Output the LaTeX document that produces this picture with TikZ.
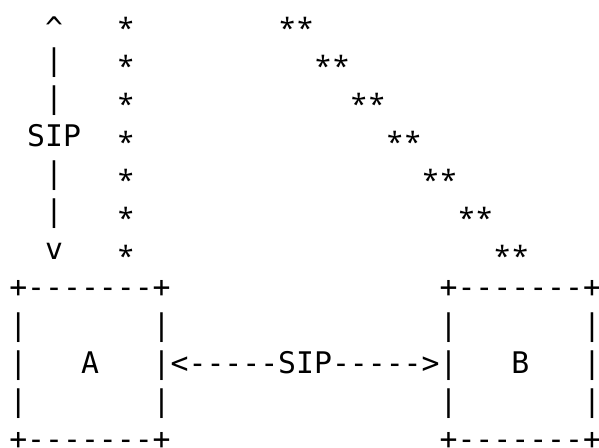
\documentclass[tikz,border=0pt]{standalone}
\usepackage{fontspec}
\newfontfamily\monofont{DejaVu Sans Mono}
\newfontfamily\starfont{Noto Sans}
\tikzset{
  txt/.style={anchor=base west, inner sep=0pt, outer sep=0pt, font=\monofont\fontsize{29.78pt}{38pt}\selectfont},
  star/.style={anchor=base, inner sep=0pt, outer sep=0pt, yshift=-6.5pt, font=\starfont\fontsize{28pt}{34pt}\selectfont},
}
\begin{document}
\begin{tikzpicture}
\useasboundingbox (0,0) rectangle (599pt,-447pt);
\begin{scope}[shift={(9.3pt,-32.3pt)}, x=17.93pt, y=-37.9pt]
  % vertical SIP arrow
  \node[txt, yshift=-6pt] (up) at (2,0) {\^{}};
  \node[txt] (v1) at (2,1) {|};
  \node[txt] (v2) at (2,2) {|};
  \node[txt] (sipv) at (1,3) {SIP};
  \node[txt] (v4) at (2,4) {|};
  \node[txt] (v5) at (2,5) {|};
  \node[txt] (down) at (2,6) {v};
  % vertical star column and diagonal pairs
  \foreach \r in {0,...,6} {
    \node[star] (s\r) at (6.5,\r) {*};
    \node[star] (da\r) at ({15.5+2*\r},\r) {*};
    \node[star] (db\r) at ({16.5+2*\r},\r) {*};
  }
  % box A
  \node[txt] (atop) at (0,7) {+-------+};
  \node[txt] (al8) at (0,8) {|};
  \node[txt] (ar8) at (8,8) {|};
  \node[txt] (al9) at (0,9) {|};
  \node[txt] (A) at (4,9) {A};
  \node[txt] (sip) at (8,9) {|<-----SIP----->|};
  \node[txt] (al10) at (0,10) {|};
  \node[txt] (ar10) at (8,10) {|};
  \node[txt] (abot) at (0,11) {+-------+};
  % box B
  \node[txt] (btop) at (24,7) {+-------+};
  \node[txt] (bl8) at (24,8) {|};
  \node[txt] (br8) at (32,8) {|};
  \node[txt] (B) at (28,9) {B};
  \node[txt] (br9) at (32,9) {|};
  \node[txt] (bl10) at (24,10) {|};
  \node[txt] (br10) at (32,10) {|};
  \node[txt] (bbot) at (24,11) {+-------+};
\end{scope}
\end{tikzpicture}
\end{document}
